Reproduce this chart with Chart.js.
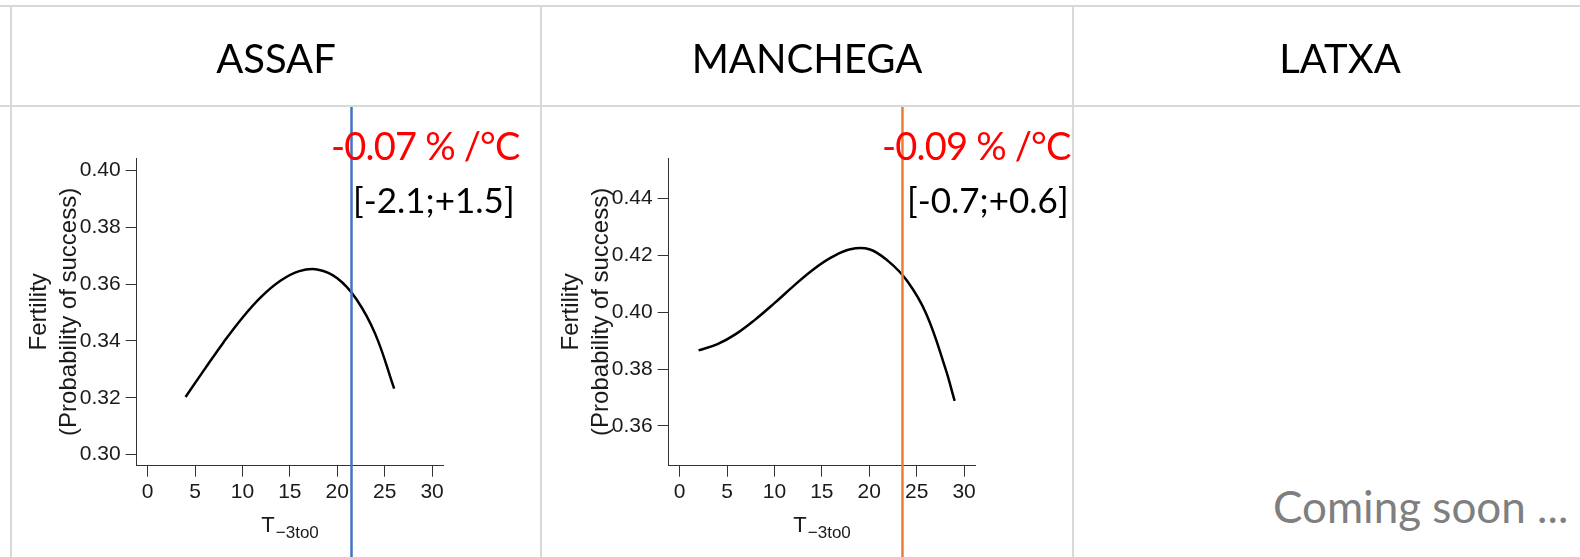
<!DOCTYPE html>
<html>
<head>
<meta charset="utf-8">
<script src="https://cdn.jsdelivr.net/npm/chart.js@4.4.1/dist/chart.umd.min.js"></script>
<style>
  html, body { margin: 0; padding: 0; background: #fff; width: 1580px; height: 557px; overflow: hidden; }
  .page { position: relative; width: 1580px; height: 557px; }
  .rule { position: absolute; background: #d9d9d9; }
  .head { position: absolute; top: 38px; line-height: 40px; font-family: Lato, sans-serif; font-size: 40px; color: #000; text-align: center; white-space: nowrap; }
  .slope { position: absolute; line-height: 38px; font-family: Lato, sans-serif; font-size: 38px; letter-spacing: -0.8px; color: #ff0000; white-space: nowrap; z-index: 2; }
  .ci { position: absolute; line-height: 35px; font-family: Lato, sans-serif; font-size: 35px; color: #000; white-space: nowrap; z-index: 2; }
  .soon { position: absolute; left: 1273px; top: 484px; line-height: 44px; font-family: Lato, sans-serif; font-size: 44px; color: #7f7f7f; white-space: nowrap; }
  .plot { position: absolute; top: 107px; width: 530px; height: 450px; }
</style>
</head>
<body>
<div class="page" id="page">
  <div class="plot" style="left:11px"><canvas id="assafChart"></canvas></div>
  <div class="plot" style="left:543px"><canvas id="manchegaChart"></canvas></div>
  <div class="soon">Coming soon ...</div>
</div>
<script>
const breeds = ['ASSAF', 'MANCHEGA', 'LATXA'];
const tempTicks = [0, 5, 10, 15, 20, 25, 30];

const assafTemp = [4, 6, 8, 10, 12, 14, 16, 18, 20, 22, 24, 26];
const assafFert = [0.3203, 0.3300, 0.3395, 0.3482, 0.3556, 0.3612, 0.3646, 0.3651, 0.3621, 0.3548, 0.3425, 0.3232];
const assafTicks = [0.30, 0.32, 0.34, 0.36, 0.38, 0.40];

const manchegaTemp = [2, 4, 6, 8, 10, 12, 14, 16, 18, 20, 22, 24, 26, 28, 29];
const manchegaFert = [0.3866, 0.3888, 0.3925, 0.3975, 0.4032, 0.4092, 0.4148, 0.4193, 0.4222, 0.4222, 0.4180, 0.4110, 0.3995, 0.3805, 0.3688];
const manchegaTicks = [0.36, 0.38, 0.40, 0.42, 0.44];

const slopes = ['-0.07 % /°C', '-0.09 % /°C'];
const intervals = ['[-2.1;+1.5]', '[-0.7;+0.6]'];
const refTemps = [21.5, 23.5];

// table grid (columns run past the right edge of the window)
const colEdges = [11, 541, 1073, 1607];
const page = document.getElementById('page');
page.insertAdjacentHTML('beforeend',
  `<div class="rule" style="left:0;top:5px;width:1580px;height:2px"></div>
   <div class="rule" style="left:0;top:105px;width:1580px;height:2px"></div>`);
colEdges.slice(0, 3).forEach(x => {
  page.insertAdjacentHTML('beforeend', `<div class="rule" style="left:${x - 1}px;top:5px;width:2px;height:552px"></div>`);
});
breeds.forEach((name, i) => {
  const left = colEdges[i], w = colEdges[i + 1] - colEdges[i];
  page.insertAdjacentHTML('beforeend', `<div class="head" style="left:${left}px;width:${w}px">${name}</div>`);
});

// slope + interval labels beside each reference line
const labelLefts = [[331, 353], [882, 907]];
slopes.forEach((s, i) => {
  page.insertAdjacentHTML('beforeend',
    `<div class="slope" style="left:${labelLefts[i][0]}px;top:126px">${s}</div>
     <div class="ci" style="left:${labelLefts[i][1]}px;top:182px">${intervals[i]}</div>`);
});

Chart.defaults.font.family = '"Liberation Sans", Arial, sans-serif';
Chart.defaults.color = '#1a1a1a';

const refLine = {
  id: 'refLine',
  afterDraw(chart, args, opts) {
    const x = chart.scales.x.getPixelForValue(opts.value);
    const ctx = chart.ctx;
    ctx.save();
    ctx.strokeStyle = opts.color;
    ctx.lineWidth = 2.5;
    ctx.beginPath();
    ctx.moveTo(x, 0);
    ctx.lineTo(x, chart.height);
    ctx.stroke();
    ctx.restore();
  }
};

// x title with subscript: T_-3to0
const xTitle = {
  id: 'xTitle',
  afterDraw(chart) {
    const { ctx, chartArea } = chart;
    const cx = (chartArea.left + chartArea.right) / 2;
    const y = chartArea.bottom + 66;
    const sub = '\u22123to0';
    ctx.save();
    ctx.fillStyle = '#1a1a1a';
    ctx.textBaseline = 'alphabetic';
    ctx.textAlign = 'left';
    ctx.font = '22px "Liberation Sans"';
    const wT = ctx.measureText('T').width;
    ctx.font = '17px "Liberation Sans"';
    const wS = ctx.measureText(sub).width;
    const x0 = cx - (wT + wS + 1) / 2;
    ctx.font = '22px "Liberation Sans"';
    ctx.fillText('T', x0, y);
    ctx.font = '17px "Liberation Sans"';
    ctx.fillText(sub, x0 + wT + 1, y + 6);
    ctx.restore();
  }
};

function makeChart(id, temps, fert, yTicks, yMin, yMax, refValue, refColor) {
  const axisGrid = { drawOnChartArea: false, tickLength: 11, color: '#333', lineWidth: 1 };
  const axisBorder = { display: true, color: '#333', width: 1 };
  return new Chart(document.getElementById(id), {
    type: 'line',
    data: {
      datasets: [{
        data: temps.map((t, i) => ({ x: t, y: fert[i] })),
        borderColor: '#000',
        borderWidth: 2.5,
        pointRadius: 0,
        fill: false,
        tension: 0.4
      }]
    },
    options: {
      responsive: true,
      maintainAspectRatio: false,
      animation: false,
      devicePixelRatio: 1,
      layout: { padding: { top: 51, right: 97.5, bottom: 31.3, left: 0 } },
      plugins: {
        legend: { display: false },
        tooltip: { enabled: false },
        refLine: { value: refValue, color: refColor }
      },
      scales: {
        x: {
          type: 'linear',
          min: -1.15,
          max: 31.2,
          afterBuildTicks: s => { s.ticks = tempTicks.map(v => ({ value: v })); },
          afterFit: s => { s.height = 60; },
          grid: axisGrid,
          border: axisBorder,
          ticks: { padding: 3, font: { size: 21 }, maxRotation: 0, autoSkip: false }
        },
        y: {
          min: yMin,
          max: yMax,
          afterBuildTicks: s => { s.ticks = yTicks.map(v => ({ value: v })); },
          afterFit: s => { s.width = 125.7; },
          grid: axisGrid,
          border: axisBorder,
          ticks: { padding: 5, font: { size: 21 }, autoSkip: false, callback: v => v.toFixed(2) },
          title: {
            display: true,
            text: ['Fertility', '(Probability of success)'],
            font: { size: 24, lineHeight: 1.25 },
            padding: { top: 13, bottom: 0 }
          }
        }
      }
    },
    plugins: [refLine, xTitle]
  });
}

makeChart('assafChart', assafTemp, assafFert, assafTicks, 0.2961, 0.4044, refTemps[0], '#4472c4');
makeChart('manchegaChart', manchegaTemp, manchegaFert, manchegaTicks, 0.3460, 0.4543, refTemps[1], '#ed7d31');
</script>
</body>
</html>
